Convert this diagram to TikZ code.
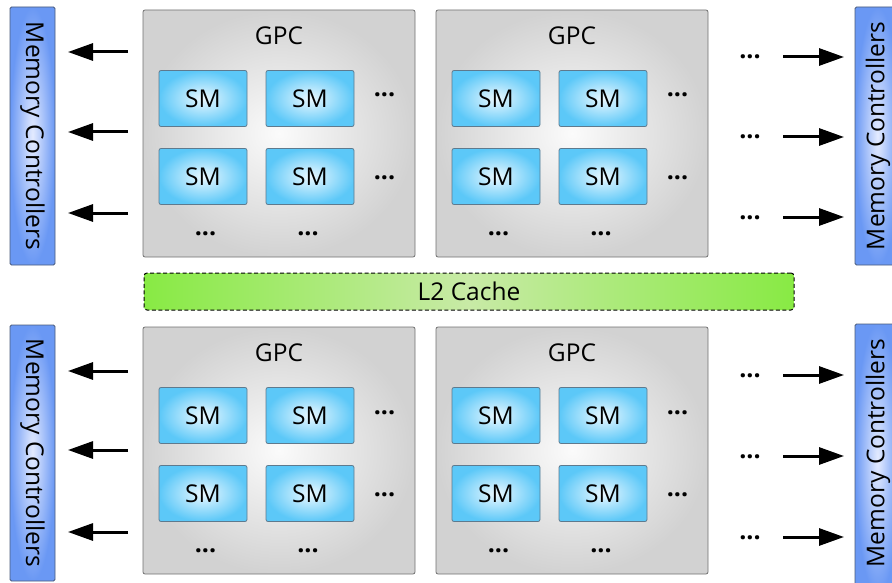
\documentclass[tikz,border=0pt]{standalone}
\usepackage{fontspec}
\setmainfont{Open Sans}
\usetikzlibrary{arrows.meta}

\definecolor{gpcin}{HTML}{FBFBFB}
\definecolor{gpcout}{HTML}{D2D2D2}
\definecolor{gpcline}{HTML}{707070}
\definecolor{smin}{HTML}{EAF8FF}
\definecolor{smout}{HTML}{5CC8F8}
\definecolor{smline}{HTML}{5E7A8E}
\definecolor{mcin}{HTML}{E4EBFF}
\definecolor{mcout}{HTML}{6A98F4}
\definecolor{mcline}{HTML}{4A5A7A}
\definecolor{l2side}{HTML}{88EA44}
\definecolor{l2mid}{HTML}{C8EAA6}

\tikzset{
  lbl/.style={font=\fontsize{24.5}{29}\selectfont, inner sep=0pt},
  gpcbox/.style={draw=gpcline, line width=0.8pt, rounded corners=2pt,
    inner color=gpcin, outer color=gpcout, minimum width=272pt, minimum height=247pt},
  smbox/.style={draw=smline, line width=0.8pt, rounded corners=2pt,
    inner color=smin, outer color=smout, minimum width=88pt, minimum height=56pt,
    lbl},
  mcbox/.style={draw=mcline, line width=0.8pt, rounded corners=1.5pt,
    inner color=mcin, outer color=mcout, minimum width=45pt},
  l2box/.style={draw=black, dash pattern=on 4pt off 2.5pt, line width=1pt,
    rounded corners=3pt,
    left color=l2side, right color=l2side, middle color=l2mid,
    minimum width=650pt, minimum height=37pt, lbl},
  dots/.style={font=\fontsize{25}{29}\selectfont\bfseries, inner sep=0pt, anchor=base},
  link/.style={line width=3pt, -{Triangle[length=25pt,width=17pt]}},
}

\begin{document}
\begin{tikzpicture}[x=1pt, y=-1pt]
  \useasboundingbox (0,0) rectangle (892,583);
  \clip (0,0) rectangle (892,583);

  % memory controllers
  \node[mcbox, minimum height=258pt] (mcTL) at (32.5,136) {};
  \node[lbl, rotate=-90] at (mcTL) {Memory Controllers};
  \node[mcbox, minimum height=256pt] (mcBL) at (32.5,453) {};
  \node[lbl, rotate=-90] at (mcBL) {Memory Controllers};
  \node[mcbox, minimum height=258pt] (mcTR) at (877.5,136) {};
  \node[lbl, rotate=90] at (878,136) {Memory Controllers};
  \node[mcbox, minimum height=270pt] (mcBR) at (877.5,459) {};
  \node[lbl, rotate=90] at (878,453) {Memory Controllers};

  % L2 cache
  \node[l2box] (l2) at (469,291.5) {L2 Cache};

  % GPCs with their SMs
  \foreach \gx/\gy/\id in {0/0/a, 293/0/b, 0/317/c, 293/317/d} {
    \begin{scope}[shift={(\gx,\gy)}]
      \node[gpcbox] (gpc\id) at (279,133.5) {};
      \node[lbl] (gpclbl\id) at (279,36) {GPC};
      \node[smbox] (sm\id1) at (203,98.5) {SM};
      \node[smbox] (sm\id2) at (310,98.5) {SM};
      \node[smbox] (sm\id3) at (203,176.5) {SM};
      \node[smbox] (sm\id4) at (310,176.5) {SM};
      \node[dots] (dr\id1) at (384.5,97) {...};
      \node[dots] (dr\id2) at (384.5,179) {...};
      \node[dots] (db\id1) at (205.5,235) {...};
      \node[dots] (db\id2) at (308,235) {...};
    \end{scope}
  }

  % links towards the memory controllers
  \foreach \y/\n in {52/1, 132/2, 213/3, 371/4, 450/5, 532/6} {
    \coordinate (ls\n) at (128,\y);
    \coordinate (le\n) at (68,\y);
    \draw[link] (ls\n) -- (le\n);
  }
  \foreach \y/\n in {57/1, 137/2, 217/3, 375/4, 456/5, 537/6} {
    \node[dots] (ro\n) at (750,\y+2) {...};
    \coordinate (rs\n) at (783,\y);
    \coordinate (re\n) at (844,\y);
    \draw[link] (rs\n) -- (re\n);
  }
\end{tikzpicture}
\end{document}
